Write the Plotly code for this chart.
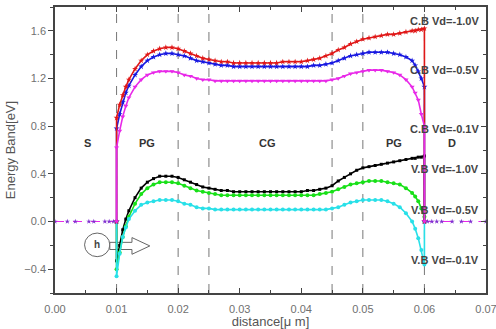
import plotly.graph_objects as go

# ---------------- data ----------------
x_dev = [0.010, 0.0105, 0.011, 0.0115, 0.012] + [round(0.013 + 0.001 * i, 4) for i in range(46)] + [0.0585, 0.059, 0.0595, 0.060]

cb_10 = [0.87, 0.98, 1.06, 1.13, 1.19,
         1.28, 1.35, 1.40, 1.43, 1.45, 1.46, 1.46, 1.45, 1.43, 1.41,
         1.39, 1.37, 1.36, 1.35, 1.34, 1.34, 1.33, 1.33, 1.33, 1.33,
         1.33, 1.33, 1.33, 1.33, 1.34, 1.34, 1.34, 1.34, 1.35, 1.36,
         1.37, 1.39, 1.41, 1.44, 1.46, 1.49, 1.51, 1.53, 1.54, 1.55,
         1.56, 1.57, 1.57, 1.58, 1.59, 1.60,
         1.60, 1.61, 1.61, 1.62]
cb_05 = [0.78, 0.90, 1.00, 1.08, 1.14,
         1.23, 1.30, 1.35, 1.38, 1.40, 1.41, 1.41, 1.40, 1.39, 1.37,
         1.35, 1.34, 1.33, 1.32, 1.31, 1.31, 1.30, 1.30, 1.30, 1.30,
         1.30, 1.30, 1.30, 1.30, 1.30, 1.30, 1.30, 1.30, 1.30, 1.31,
         1.31, 1.32, 1.33, 1.35, 1.37, 1.39, 1.40, 1.41, 1.42, 1.42,
         1.42, 1.42, 1.41, 1.40, 1.38, 1.35,
         1.31, 1.26, 1.20, 1.13]
cb_01 = [0.62, 0.76, 0.88, 0.97, 1.04,
         1.13, 1.19, 1.23, 1.25, 1.26, 1.26, 1.26, 1.25, 1.23, 1.22,
         1.20, 1.19, 1.19, 1.18, 1.18, 1.18, 1.18, 1.18, 1.18, 1.18,
         1.18, 1.18, 1.18, 1.18, 1.18, 1.18, 1.18, 1.18, 1.18, 1.18,
         1.18, 1.18, 1.19, 1.20, 1.22, 1.24, 1.25, 1.26, 1.27, 1.27,
         1.27, 1.26, 1.25, 1.23, 1.19, 1.13,
         1.08, 1.02, 0.90, 0.80]
vb_10 = [-0.33, -0.20, -0.07, 0.02, 0.09,
         0.20, 0.28, 0.33, 0.36, 0.38, 0.38, 0.38, 0.37, 0.35, 0.33,
         0.31, 0.29, 0.28, 0.27, 0.26, 0.26, 0.25, 0.25, 0.25, 0.25,
         0.25, 0.25, 0.25, 0.25, 0.25, 0.25, 0.25, 0.25, 0.26, 0.26,
         0.27, 0.28, 0.30, 0.34, 0.37, 0.40, 0.43, 0.45, 0.46, 0.47,
         0.48, 0.49, 0.50, 0.51, 0.52, 0.53,
         0.53, 0.54, 0.54, 0.55]
vb_05 = [-0.40, -0.26, -0.13, -0.04, 0.04,
         0.15, 0.23, 0.28, 0.31, 0.33, 0.33, 0.33, 0.32, 0.30, 0.28,
         0.26, 0.25, 0.24, 0.23, 0.22, 0.22, 0.22, 0.22, 0.22, 0.22,
         0.22, 0.22, 0.22, 0.22, 0.22, 0.22, 0.22, 0.22, 0.22, 0.22,
         0.23, 0.24, 0.25, 0.27, 0.29, 0.31, 0.32, 0.33, 0.34, 0.34,
         0.34, 0.33, 0.32, 0.31, 0.28, 0.24,
         0.21, 0.17, 0.11, 0.04]
vb_01 = [-0.46, -0.27, -0.13, -0.05, 0.02,
         0.09, 0.14, 0.16, 0.17, 0.18, 0.18, 0.18, 0.17, 0.15, 0.14,
         0.12, 0.11, 0.11, 0.10, 0.10, 0.10, 0.10, 0.10, 0.10, 0.10,
         0.10, 0.10, 0.10, 0.10, 0.10, 0.10, 0.10, 0.10, 0.10, 0.10,
         0.10, 0.10, 0.11, 0.12, 0.14, 0.16, 0.17, 0.18, 0.18, 0.18,
         0.18, 0.17, 0.15, 0.12, 0.07, 0.00,
         -0.06, -0.14, -0.24, -0.36]

x_source = [0.0, 0.002, 0.0033, 0.0055, 0.0063, 0.0081, 0.0088, 0.0095, 0.0100]
x_drain = [0.0600, 0.0605, 0.0612, 0.0620, 0.0628, 0.0645, 0.0660, 0.0675, 0.0700]
contact_source = [0.0] * len(x_source)
contact_drain = [0.0] * len(x_drain)

x_ticks = [0.00, 0.01, 0.02, 0.03, 0.04, 0.05, 0.06, 0.07]
y_ticks = [-0.4, 0.0, 0.4, 0.8, 1.2, 1.6]

boundaries = [0.01, 0.02, 0.025, 0.045, 0.05, 0.06]
regions = [("S", 0.0052), ("PG", 0.0150), ("CG", 0.0345), ("PG", 0.0550), ("D", 0.0645)]
series_labels = [("C.B Vd=-1.0V", 1.68), ("C.B Vd=-0.5V", 1.27), ("C.B Vd=-0.1V", 0.78),
                 ("V.B Vd=-1.0V", 0.44), ("V.B Vd=-0.5V", 0.10), ("V.B Vd=-0.1V", -0.32)]

# ---------------- figure ----------------
fig = go.Figure()

series = [
    (vb_10, "#000000", "square", 3),
    (vb_05, "#18e018", "circle", 4),
    (vb_01, "#28e0e8", "circle", 4),
    (cb_05, "#1818e0", "star", 4.5),
    (cb_10, "#e01818", "star", 4.5),
    (cb_01, "#e828e8", "triangle-down", 4.5),
]

# contacts (S and D regions at 0 eV)
for xs, ys in ((x_source, contact_source), (x_drain, contact_drain)):
    fig.add_trace(go.Scatter(x=xs, y=ys, mode="lines+markers",
                             line=dict(color="#e828e8", width=1.2, dash="dash"),
                             marker=dict(color="#8030d0", size=4, symbol="star"),
                             showlegend=False, hoverinfo="skip"))

for ys, col, sym, sz in series:
    xx = [x_dev[0]] + x_dev + [x_dev[-1]]
    yy = [0.0] + ys + [0.0]
    fig.add_trace(go.Scatter(x=xx, y=yy, mode="lines+markers",
                             line=dict(color=col, width=1.6),
                             marker=dict(color=col, size=sz, symbol=sym, line=dict(width=0)),
                             showlegend=False))

shapes = []
for b in boundaries:
    shapes.append(dict(type="line", xref="x", yref="paper", x0=b, x1=b, y0=0, y1=1,
                       line=dict(color="#777777", width=1, dash="dash"), layer="below"))

# hole marker "h" circle and hollow arrow
shapes.append(dict(type="circle", xref="x", yref="y", x0=0.0048, x1=0.0089, y0=-0.295, y1=-0.097,
                   line=dict(color="#666666", width=1), fillcolor="white", layer="below"))
shapes.append(dict(type="path", xref="x", yref="y",
                   path="M 0.0089,-0.175 L 0.0125,-0.175 L 0.0125,-0.135 L 0.0154,-0.205 "
                        "L 0.0125,-0.275 L 0.0125,-0.235 L 0.0089,-0.235 Z",
                   line=dict(color="#666666", width=1), fillcolor="white", layer="below"))

annotations = []
for txt, xp in regions:
    annotations.append(dict(x=xp, y=0.66, xref="x", yref="y", text="<b>%s</b>" % txt,
                            showarrow=False, font=dict(size=11, color="#333333")))
for txt, yp in series_labels:
    annotations.append(dict(x=0.0692, y=yp, xref="x", yref="y", text="<b>%s</b>" % txt,
                            xanchor="right", showarrow=False, font=dict(size=11, color="#444444")))
annotations.append(dict(x=0.00685, y=-0.196, xref="x", yref="y", text="<b>h</b>",
                        showarrow=False, font=dict(size=10, color="#444444")))

axis_font = dict(family="Liberation Sans, Arial, sans-serif", size=11, color="#707070")

fig.update_layout(
    width=496, height=329,
    margin=dict(l=55, r=10, t=7, b=36),
    paper_bgcolor="white", plot_bgcolor="white",
    font=dict(family="Liberation Sans, Arial, sans-serif"),
    shapes=shapes, annotations=annotations,
    xaxis=dict(range=[0, 0.070001], tickvals=x_ticks, tickformat=".2f", ticks="inside", ticklen=5,
               tickcolor="#444444", showgrid=False, zeroline=False, ticklabelstandoff=5,
               automargin=False, ticklabeloverflow="allow",
               showline=True, linecolor="#444444", linewidth=1.5, mirror=True,
               minor=dict(dtick=0.005, ticks="inside", ticklen=3, tickcolor="#444444"),
               tickfont=axis_font,
               title=dict(text="distance[μ m]", font=dict(size=13, color="#555555"), standoff=9)),
    yaxis=dict(range=[-0.6, 1.8], tickvals=y_ticks, tickformat=".1f",
               ticks="outside", ticklen=5, tickcolor="#444444", showgrid=False, zeroline=False,
               automargin=False,
               showline=True, linecolor="#444444", linewidth=1.5, mirror=True,
               minor=dict(dtick=0.2, ticks="outside", ticklen=3, tickcolor="#444444"),
               tickfont=axis_font,
               title=dict(text="Energy Band[eV]", font=dict(size=13, color="#555555"), standoff=6)),
    xaxis2=dict(range=[0, 0.070001], overlaying="x", side="top", dtick=0.01, ticks="inside", ticklen=5,
                tickcolor="#444444", showticklabels=False, showgrid=False, zeroline=False,
                minor=dict(dtick=0.005, ticks="inside", ticklen=3, tickcolor="#444444")),
    yaxis2=dict(range=[-0.6, 1.8], overlaying="y", side="right", dtick=0.4, ticks="inside", ticklen=5,
                tickcolor="#444444", showticklabels=False, showgrid=False, zeroline=False,
                minor=dict(dtick=0.2, ticks="inside", ticklen=3, tickcolor="#444444")),
)
# invisible traces to activate top/right tick axes
fig.add_trace(go.Scatter(x=[0], y=[0], xaxis="x2", yaxis="y2", mode="markers",
                         marker=dict(opacity=0), showlegend=False, hoverinfo="skip"))

fig.write_html("out.html")
